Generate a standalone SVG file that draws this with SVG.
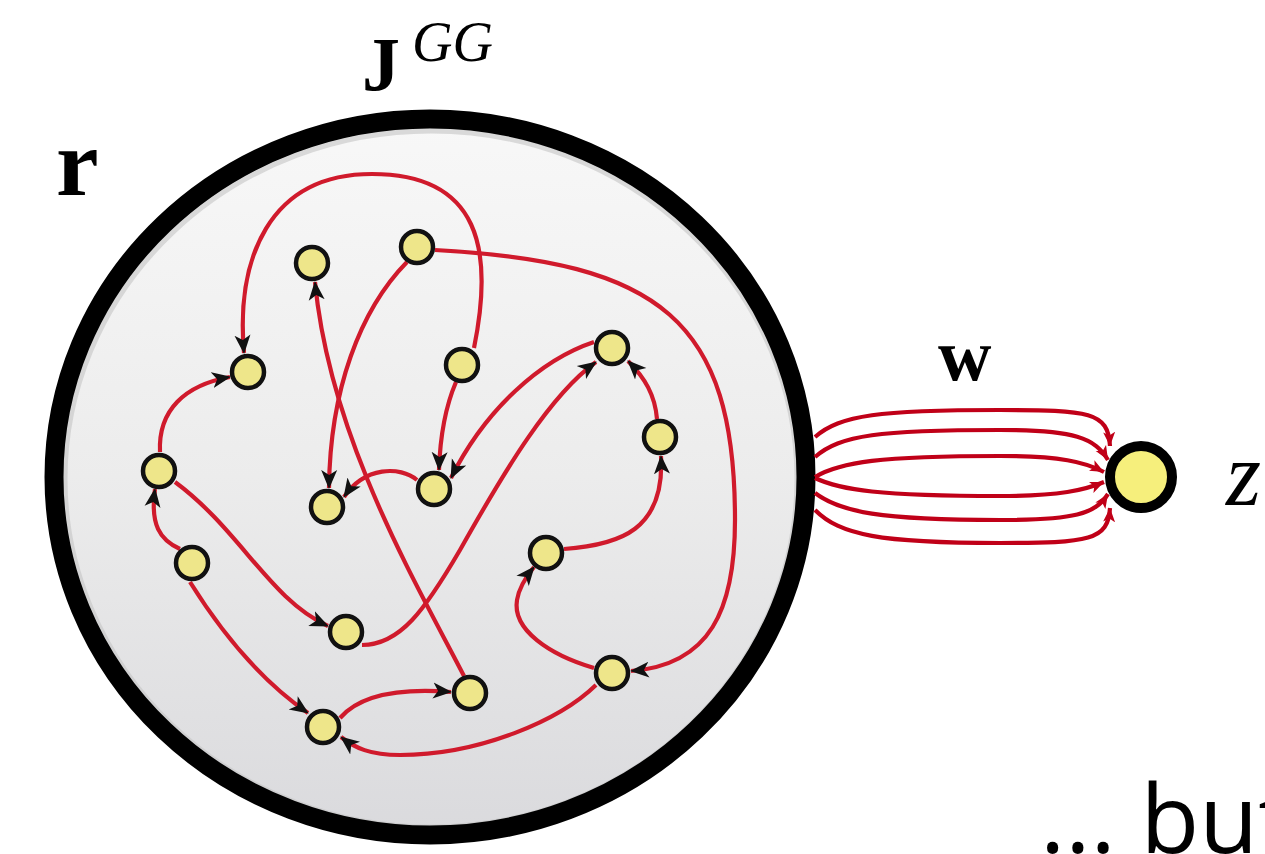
<svg xmlns="http://www.w3.org/2000/svg" width="1265" height="854" viewBox="0 0 1265 854">
<defs>
<linearGradient id="bg" x1="0" y1="0" x2="0" y2="1">
<stop offset="0" stop-color="#f8f8f8"/>
<stop offset="0.5" stop-color="#ececec"/>
<stop offset="1" stop-color="#dadadd"/>
</linearGradient>
<marker id="ah" markerUnits="userSpaceOnUse" markerWidth="20" markerHeight="18" viewBox="0 0 20 18" refX="18" refY="9" orient="auto">
<path d="M0,1 L19,9 L0,17 L5,9 z" fill="#111"/>
</marker>
<marker id="ahr" markerUnits="userSpaceOnUse" markerWidth="15" markerHeight="13" viewBox="0 0 15 13" refX="14" refY="6.5" orient="auto">
<path d="M0,0.5 L14,6.5 L0,12.5 L3.5,6.5 z" fill="#c00018"/>
</marker>
<style>
.n{fill:#eee68a;stroke:#111;stroke-width:4.5}
.e{fill:none;stroke:#d01a2c;stroke-width:4.2;marker-end:url(#ah)}
.w{fill:none;stroke:#c00018;stroke-width:4.2;marker-end:url(#ahr)}
.bold{font-family:"Liberation Serif",serif;font-weight:bold;fill:#000}
.ital{font-family:"Liberation Serif",serif;font-style:italic;fill:#000}
</style>
</defs>
<rect width="1265" height="854" fill="#fff"/>
<g id="reservoir">
<ellipse cx="430" cy="477" rx="376" ry="358" fill="url(#bg)"/>
<ellipse cx="431" cy="479" rx="366" ry="348" fill="none" stroke="#c4c4c4" stroke-width="5" opacity="0.6"/>
<ellipse cx="430" cy="477" rx="376" ry="358" fill="none" stroke="#000" stroke-width="19"/>
</g>
<g id="connectors">
<path class="e" d="M474,348 C494,250 480,174 372,174 C268,174 236,260 244,353"/>
<path class="e" d="M160,452 C158,410 185,385 230,377"/>
<path class="e" d="M435,250 C660,262 735,320 735,520 C735,610 710,665 631,671"/>
<path class="e" d="M407,262 C360,310 330,390 329,488"/>
<path class="e" d="M464,676 C420,590 330,440 315,282"/>
<path class="e" d="M456,382 C444,410 440,440 439,470"/>
<path class="e" d="M594,342 C540,360 485,410 451,478"/>
<path class="e" d="M417,480 C400,466 365,466 344,497"/>
<path class="e" d="M175,482 C240,530 270,600 328,626"/>
<path class="e" d="M180,549 C160,540 150,525 155,489"/>
<path class="e" d="M190,582 C220,630 260,680 308,713"/>
<path class="e" d="M362,645 C400,645 425,610 460,550 C505,470 550,395 596,362"/>
<path class="e" d="M340,718 C360,695 400,688 451,692"/>
<path class="e" d="M596,685 C560,720 480,755 400,755 C370,755 355,748 341,737"/>
<path class="e" d="M594,668 C550,655 512,630 517,600 C519,588 525,578 534,567"/>
<path class="e" d="M564,549 C620,545 665,530 661,456"/>
<path class="e" d="M657,419 C655,395 645,378 628,361"/>
<path class="w" d="M815,437 C840,415 880,410 1000,410 C1090,410 1108,412 1110,446"/>
<path class="w" d="M815,457 C840,435 880,430 1000,430 C1075,430 1095,438 1108,460"/>
<path class="w" d="M815,477 C840,462 880,456 1000,456 C1060,456 1085,462 1104,472"/>
<path class="w" d="M815,478 C840,490 880,496 1000,496 C1060,496 1085,490 1104,482"/>
<path class="w" d="M815,493 C840,512 880,520 1000,520 C1075,520 1095,514 1108,494"/>
<path class="w" d="M815,510 C840,535 880,543 1000,543 C1090,543 1108,540 1110,508"/>
</g>
<g id="n1"><circle class="n" cx="312" cy="263" r="16"/></g>
<g id="n2"><circle class="n" cx="417" cy="247" r="16"/></g>
<g id="n3"><circle class="n" cx="248" cy="372" r="16"/></g>
<g id="n4"><circle class="n" cx="462" cy="365" r="16"/></g>
<g id="n5"><circle class="n" cx="612" cy="348" r="16"/></g>
<g id="n6"><circle class="n" cx="660" cy="437" r="16"/></g>
<g id="n7"><circle class="n" cx="159" cy="471" r="16"/></g>
<g id="n8"><circle class="n" cx="327" cy="507" r="16"/></g>
<g id="n9"><circle class="n" cx="434" cy="489" r="16"/></g>
<g id="n10"><circle class="n" cx="192" cy="563" r="16"/></g>
<g id="n11"><circle class="n" cx="546" cy="553" r="16"/></g>
<g id="n12"><circle class="n" cx="346" cy="632" r="16"/></g>
<g id="n13"><circle class="n" cx="612" cy="673" r="16"/></g>
<g id="n14"><circle class="n" cx="470" cy="693" r="16"/></g>
<g id="n15"><circle class="n" cx="323" cy="727" r="16"/></g>
<g id="z-node"><circle cx="1141" cy="477" r="31" fill="#f6ef7c" stroke="#000" stroke-width="10"/></g>
<g id="labels">
<text class="bold" x="362" y="90" font-size="76">J</text>
<text class="ital" x="412" y="61" font-size="56">GG</text>
<text class="bold" x="56" y="195" font-size="96">r</text>
<text class="bold" x="938" y="380" font-size="74">w</text>
<text class="ital" x="1226" y="505" font-size="90">z</text>
<text x="1040" y="853" font-family="'Open Sans',sans-serif" font-size="96" fill="#000">... but</text>
</g>
</svg>
